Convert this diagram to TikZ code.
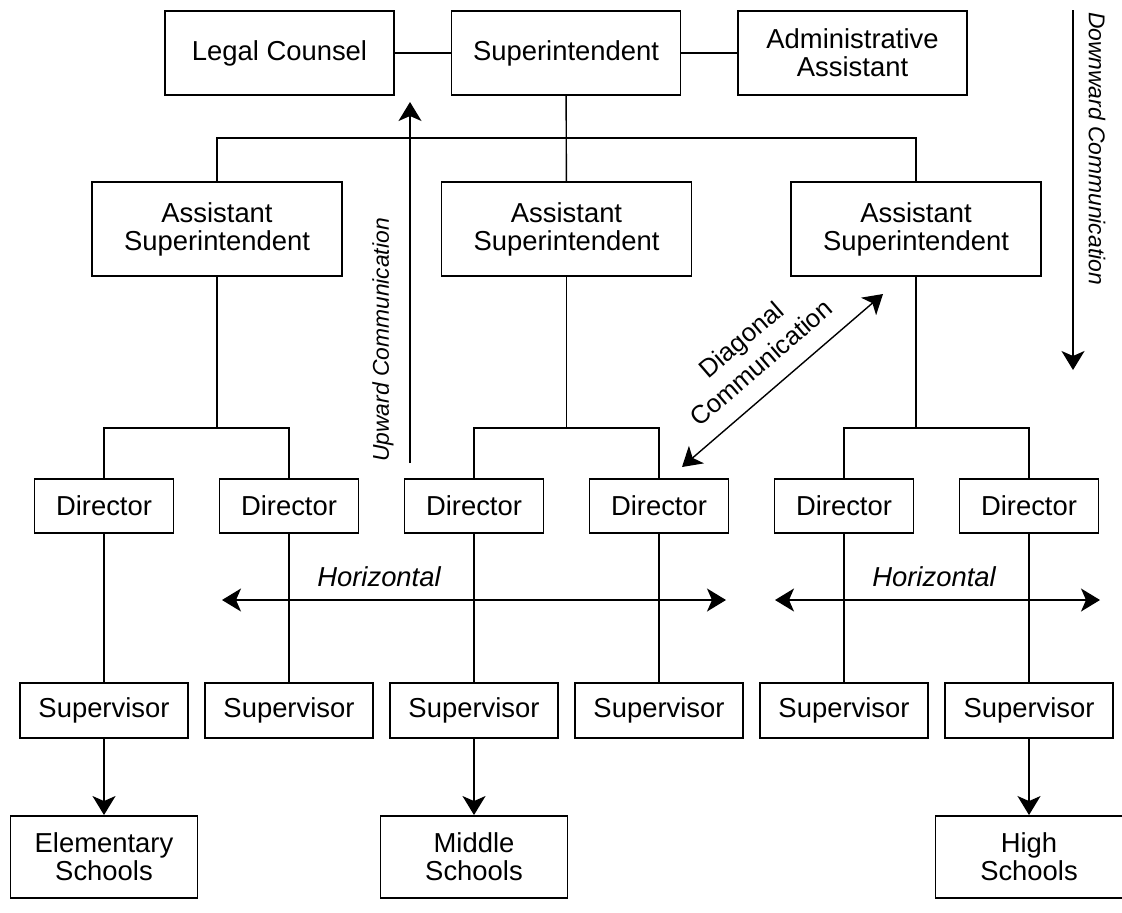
\documentclass[tikz,border=0pt]{standalone}
\usepackage{fontspec}
\setmainfont{Liberation Sans}
\usepackage{tikz}
\usetikzlibrary{arrows.meta,positioning}
\tikzstyle{post} = [draw, rectangle, line width=1.1pt, align=center, inner sep=2pt,
font=\fontsize{15.6}{16}\selectfont]
\tikzstyle{headbox} = [post, minimum height=1.68cm, minimum width=4.58cm]
\tikzstyle{asstbox} = [post, minimum height=1.88cm, minimum width=5cm]
\tikzstyle{dirbox} = [post, minimum height=1.08cm, minimum width=2.78cm]
\tikzstyle{supbox} = [post, minimum height=1.1cm, minimum width=3.36cm]
\tikzstyle{schoolbox} = [post, minimum height=1.64cm, minimum width=3.74cm]
\tikzstyle{sidelbl} = [font=\fontsize{13}{15}\selectfont\itshape]
\tikzstyle{diaglbl} = [align=center, font=\fontsize{14.6}{17.5}\selectfont]
\tikzstyle{horlbl} = [font=\fontsize{15.6}{16}\selectfont\itshape]
\begin{document}
\begin{tikzpicture}[auto, node distance=3.7cm, line width=0.8pt,
>={Stealth[length=0.38cm,width=0.46cm,inset=0.1cm]}]
\useasboundingbox (0,0) rectangle (22.44,-18.24);

\node [headbox] (super) at (11.32,-1.06) {Superintendent};
\node [headbox, left of=super, node distance=5.73cm] (legal) {Legal Counsel};
\node [headbox, right of=super, node distance=5.73cm] (admin) {Administrative\\Assistant};

\node [asstbox] (asst1) at (4.34,-4.58) {Assistant\\Superintendent};
\node [asstbox, right of=asst1, node distance=6.99cm] (asst2) {Assistant\\Superintendent};
\node [asstbox, right of=asst2, node distance=6.99cm] (asst3) {Assistant\\Superintendent};

\node [dirbox] (dir1) at (2.08,-10.12) {Director};
\node [dirbox, right of=dir1] (dir2) {Director};
\node [dirbox, right of=dir2] (dir3) {Director};
\node [dirbox, right of=dir3] (dir4) {Director};
\node [dirbox, right of=dir4] (dir5) {Director};
\node [dirbox, right of=dir5] (dir6) {Director};

\node [supbox, below of=dir1, node distance=4.09cm] (sup1) {Supervisor};
\node [supbox, below of=dir2, node distance=4.09cm] (sup2) {Supervisor};
\node [supbox, below of=dir3, node distance=4.09cm] (sup3) {Supervisor};
\node [supbox, below of=dir4, node distance=4.09cm] (sup4) {Supervisor};
\node [supbox, below of=dir5, node distance=4.09cm] (sup5) {Supervisor};
\node [supbox, below of=dir6, node distance=4.09cm] (sup6) {Supervisor};

\node [schoolbox, below of=sup1, node distance=2.93cm] (elem) {Elementary\\Schools};
\node [schoolbox, below of=sup3, node distance=2.93cm] (middle) {Middle\\Schools};
\node [schoolbox, below of=sup6, node distance=2.93cm] (high) {High\\Schools};

\draw (legal) -- (super);
\draw (super) -- (admin);
\draw (super) -- (asst2);

\coordinate (bus) at (0,-2.76);
\draw (asst1.north) |- (bus -| asst3) -- (asst3.north);

\coordinate (dbus) at (0,-8.56);
\draw (asst1) -- (asst1 |- dbus);
\draw (asst2) -- (asst2 |- dbus);
\draw (asst3) -- (asst3 |- dbus);
\draw (dir1.north) |- (dir2 |- dbus) -- (dir2.north);
\draw (dir3.north) |- (dir4 |- dbus) -- (dir4.north);
\draw (dir5.north) |- (dir6 |- dbus) -- (dir6.north);

\draw (dir1) -- (sup1);
\draw (dir2) -- (sup2);
\draw (dir3) -- (sup3);
\draw (dir4) -- (sup4);
\draw (dir5) -- (sup5);
\draw (dir6) -- (sup6);

\draw [->] (sup1) -- (sup1 |- elem.north);
\draw [->] (sup3) -- (sup3 |- middle.north);
\draw [->] (sup6) -- (sup6 |- high.north);

% communication arrows
\coordinate (up1) at (8.2,-9.26);
\coordinate (up2) at (8.2,-2.04);
\draw [->] (up1) -- (up2);
\node [sidelbl, rotate=90] (uplbl) at (7.66,-6.8) {Upward Communication};

\coordinate (dn1) at (21.46,-0.2);
\coordinate (dn2) at (21.46,-7.4);
\draw [->] (dn1) -- (dn2);
\node [sidelbl, rotate=-90] (dnlbl) at (21.94,-2.97) {Downward Communication};

\coordinate (dg1) at (13.64,-9.34);
\coordinate (dg2) at (17.66,-5.88);
\draw [<->] (dg1) -- (dg2);
\node [diaglbl, rotate=40.7] (dglbl) at (15.02,-7.02) {Diagonal\\Communication};

\coordinate (hl1) at (4.44,-12);
\coordinate (hl2) at (14.52,-12);
\coordinate (hr1) at (15.5,-12);
\coordinate (hr2) at (22.0,-12);
\draw [<->] (hl1) -- (hl2);
\draw [<->] (hr1) -- (hr2);
\node [horlbl] (hlbl1) at (7.58,-11.54) {Horizontal};
\node [horlbl] (hlbl2) at (18.68,-11.54) {Horizontal};
\end{tikzpicture}
\end{document}
